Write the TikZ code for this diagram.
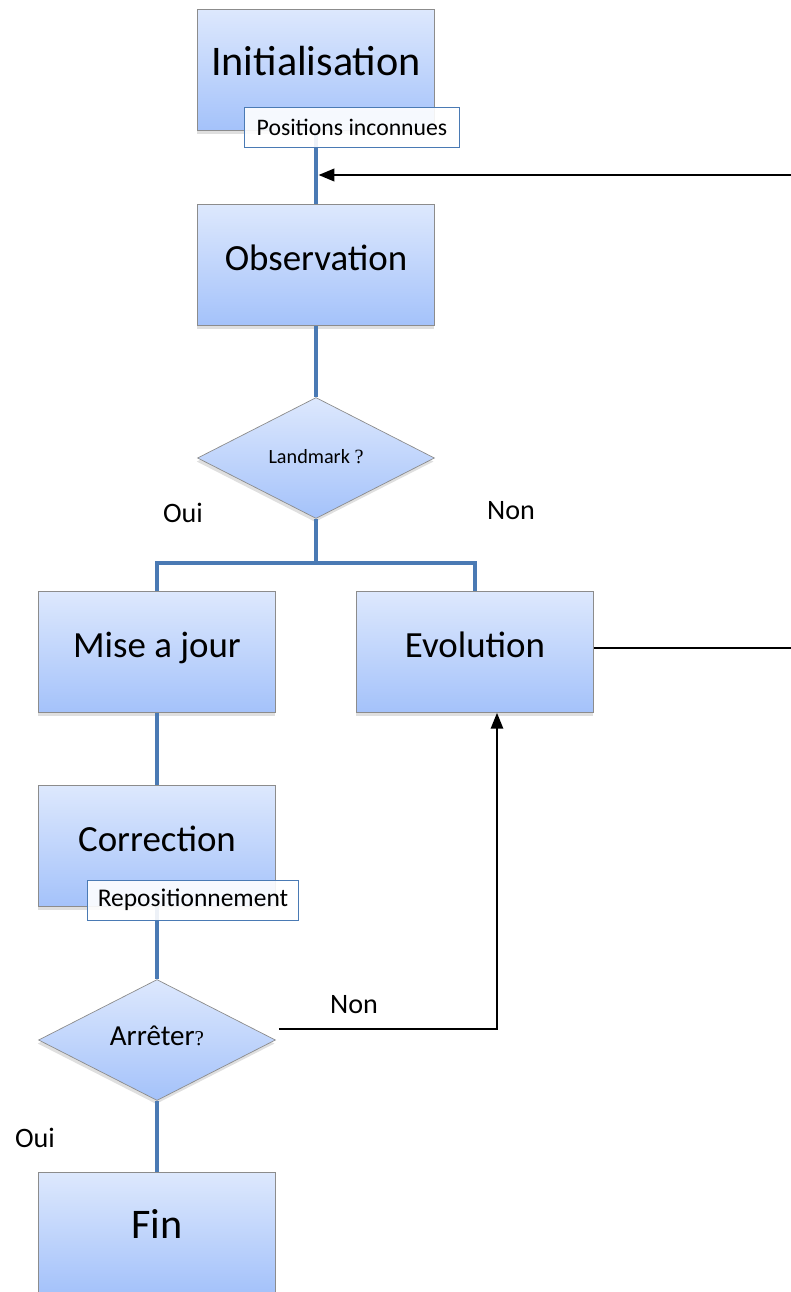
\documentclass[tikz,border=0pt]{standalone}
\usepackage{fontspec}
\setmainfont{Carlito}
\newfontfamily\qfont{Liberation Serif}
\usetikzlibrary{shapes.geometric,shadows,arrows.meta}
\definecolor{boxtop}{HTML}{DDE8FD}
\definecolor{boxbot}{HTML}{A4C2FA}
\definecolor{boxline}{HTML}{8C8C8C}
\definecolor{linkblue}{HTML}{4A7AB4}

\begin{document}
\begin{tikzpicture}[x=0.02cm, y=-0.02cm,
  >={Triangle[length=9pt,width=7pt]},
  etape/.style={rectangle, draw=boxline, top color=boxtop, bottom color=boxbot,
    minimum width=4.74cm, minimum height=2.42cm,
    text height=0.5cm, text depth=0.3cm,
    drop shadow={shadow xshift=-0.5pt, shadow yshift=-2pt, opacity=0.25},
    font=\fontsize{21}{25}\selectfont},
  test/.style={diamond, aspect=1.96, inner sep=0pt, draw=boxline,
    top color=boxtop, bottom color=boxbot,
    minimum width=4.74cm, minimum height=2.42cm,
    text height=0.5cm, text depth=0.3cm,
    drop shadow={shadow xshift=-0.5pt, shadow yshift=-2pt, opacity=0.25}},
  etiquette/.style={rectangle, draw=linkblue, fill=white, fill opacity=0.9,
    text opacity=1, inner sep=2pt, minimum height=0.8cm},
  lien/.style={draw=linkblue, line width=2.8pt},
  fleche/.style={->, line width=1.1pt},
  reponse/.style={font=\fontsize{16}{19}\selectfont}]
  % Frame
  \useasboundingbox (0,0) rectangle (791,1292);
  \clip (0,0) rectangle (791,1292);
  % Steps
  \node[etape, font=\fontsize{24}{28}\selectfont] (init) at (316,70) {Initialisation};
  \node[etape] (obs) at (316,265) {Observation};
  \node[test, font=\fontsize{11.5}{14}\selectfont] (landmark) at (316,458) {Landmark {\qfont ?}};
  \node[etape] (maj) at (157,652) {Mise a jour};
  \node[etape] (evol) at (475,652) {Evolution};
  \node[etape] (corr) at (157,846) {Correction};
  \node[test, font=\fontsize{16.5}{20}\selectfont] (arret) at (157,1040) {Arrêter{\qfont\fontsize{12}{14}\selectfont ?}};
  \node[etape, font=\fontsize{24}{28}\selectfont] (fin) at (157,1233) {Fin};
  % Links
  \coordinate (branche) at (316,563);
  \coordinate (bordhaut) at (795,175);
  \coordinate (bordbas) at (795,648);
  \draw[lien] (init) -- (obs);
  \draw[lien] (obs) -- (landmark);
  \draw[lien] (landmark) -- (branche);
  \draw[lien] (maj.north) |- (branche) -| (evol.north);
  \draw[lien] (maj) -- (corr);
  \draw[lien] (corr) -- (arret);
  \draw[lien] (arret) -- (fin);
  % Loops
  \draw[fleche, line width=1.5pt, shorten >=1.4pt] (bordhaut) -- (bordhaut -| init);
  \draw[line width=1pt] (evol.east |- bordbas) -- (bordbas);
  \draw[fleche] ([xshift=0.06cm, yshift=0.22cm]arret.east) -| ([xshift=0.44cm]evol.south);
  % Notes
  \node[etiquette, minimum width=4.3cm, font=\fontsize{13.5}{16}\selectfont] (posinc) at (352,127) {Positions inconnues};
  \node[etiquette, minimum width=4.22cm, font=\fontsize{14.5}{17}\selectfont] (repos) at (193,900) {Repositionnement};
  \node[reponse] (oui1) at (183,513) {Oui};
  \node[reponse] (non1) at (511,511) {Non};
  \node[reponse] (non2) at (354,1005) {Non};
  \node[reponse] (oui2) at (35,1138) {Oui};
\end{tikzpicture}
\end{document}
